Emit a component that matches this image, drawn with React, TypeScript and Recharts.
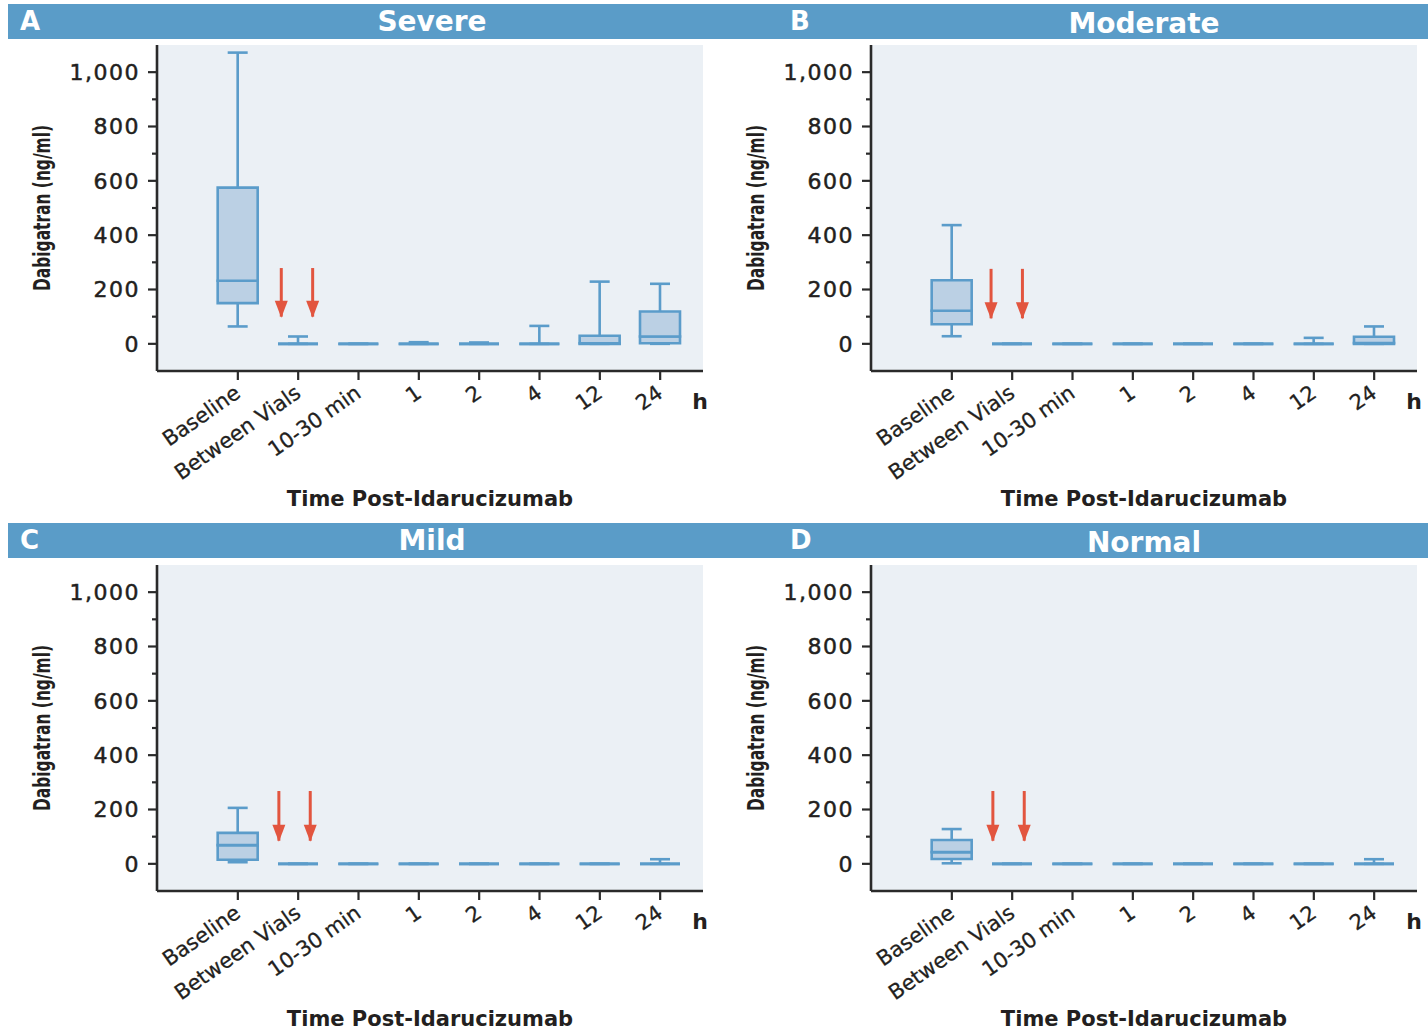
import React from 'react';
import { ComposedChart, Bar, Line, XAxis, YAxis, CartesianGrid } from 'recharts';

const categories = ['Baseline', 'Between Vials', '10-30 min', '1', '2', '4', '12', '24'];
const xTicks = [0, 1, 2, 3, 4, 5, 6, 7];
const yTicks = [0, 100, 200, 300, 400, 500, 600, 700, 800, 900, 1000];

// A - Severe
const severeMin = [64, 0, 0, 0, 0, 0, 0, 0];
const severeQ1 = [150, 0, 0, 0, 0, 0, 0, 2];
const severeMed = [232, 0, 0, 0, 0, 0, 2, 27];
const severeQ3 = [575, 0, 0, 0, 0, 0, 30, 119];
const severeMax = [1072, 27, 0, 6, 5, 66, 229, 221];
const severeArrowX = [0.72, 1.24];
const severeArrowY = [279, 100];

// B - Moderate
const moderateMin = [28, 0, 0, 0, 0, 0, 0, 0];
const moderateQ1 = [72, 0, 0, 0, 0, 0, 0, 0];
const moderateMed = [122, 0, 0, 0, 0, 0, 0, 3];
const moderateQ3 = [234, 0, 0, 0, 0, 0, 0, 26];
const moderateMax = [437, 0, 0, 0, 0, 0, 22, 64];
const moderateArrowX = [0.65, 1.17];
const moderateArrowY = [276, 94];

// C - Mild
const mildMin = [6, 0, 0, 0, 0, 0, 0, 0];
const mildQ1 = [15, 0, 0, 0, 0, 0, 0, 0];
const mildMed = [69, 0, 0, 0, 0, 0, 0, 0];
const mildQ3 = [114, 0, 0, 0, 0, 0, 0, 0];
const mildMax = [206, 0, 0, 0, 0, 0, 0, 17];
const mildArrowX = [0.68, 1.2];
const mildArrowY = [268, 85];

// D - Normal
const normalMin = [2, 0, 0, 0, 0, 0, 0, 0];
const normalQ1 = [18, 0, 0, 0, 0, 0, 0, 0];
const normalMed = [43, 0, 0, 0, 0, 0, 0, 0];
const normalQ3 = [88, 0, 0, 0, 0, 0, 0, 0];
const normalMax = [128, 0, 0, 0, 0, 0, 0, 17];
const normalArrowX = [0.68, 1.2];
const normalArrowY = [268, 85];

const BLUE = '#5b9cca';
const HEADER = '#5a9cc8';
const FILL = '#bbd0e4';
const PLOT_BG = '#ebf0f5';
const AXIS = '#2a2a2a';
const TEXT = '#231f20';
const RED = '#e2553f';
const SW = 2.6;
const FONT = '"DejaVu Sans", sans-serif';
const X_DOMAIN = [-1.34, 7.71];

function toRows(min: number[], q1: number[], med: number[], q3: number[], max: number[]) {
  return xTicks.map((i) => ({
    x: i,
    base: min[i],
    wLo: q1[i] - min[i],
    bLo: med[i] - q1[i],
    bHi: q3[i] - med[i],
    wHi: max[i] - q3[i],
  }));
}

const Empty = () => <g />;

const LowWhisker = (p: any) => {
  const cx = p.x + p.width / 2;
  const yb = p.y + p.height;
  return (
    <g>
      <line x1={cx} x2={cx} y1={p.y} y2={yb} stroke={BLUE} strokeWidth={SW} />
      <line x1={cx - 10} x2={cx + 10} y1={yb} y2={yb} stroke={BLUE} strokeWidth={SW} />
    </g>
  );
};

const HighWhisker = (p: any) => {
  const cx = p.x + p.width / 2;
  return (
    <g>
      <line x1={cx} x2={cx} y1={p.y} y2={p.y + p.height} stroke={BLUE} strokeWidth={SW} />
      <line x1={cx - 10} x2={cx + 10} y1={p.y} y2={p.y} stroke={BLUE} strokeWidth={SW} />
    </g>
  );
};

const BoxPart = (p: any) => (
  <path
    d={`M${p.x},${p.y}H${p.x + p.width}V${p.y + p.height}H${p.x}Z`}
    fill={FILL}
    stroke={BLUE}
    strokeWidth={SW}
  />
);

const ArrowHead = (p: any) => {
  if (p.index !== 1) return <g key={`a${p.index}`} />;
  const { cx, cy } = p;
  return <path key={`a${p.index}`} d={`M${cx - 6.5},${cy - 16}L${cx + 6.5},${cy - 16}L${cx},${cy + 1}Z`} fill={RED} />;
};

const YTick = (p: any) => {
  const v = p.payload.value;
  const major = v % 200 === 0;
  const xr = p.x + 17;
  return (
    <g>
      <line x1={major ? xr - 9 : xr - 5} x2={xr} y1={p.y} y2={p.y} stroke={AXIS} strokeWidth={2.2} />
      {major && (
        <text
          x={p.x}
          y={p.y}
          dy="0.36em"
          textAnchor="end"
          fill={TEXT}
          stroke={TEXT}
          strokeWidth={0.5}
          fontSize={22}
          fontFamily={FONT}
          letterSpacing={1.5}
        >
          {v.toLocaleString('en-US')}
        </text>
      )}
    </g>
  );
};

const XTick = (p: any) => {
  const i = p.payload.value;
  return (
    <g>
      <g transform={`translate(${p.x + 4},${p.y + 14}) rotate(-35)`}>
        <text x={0} y={0} textAnchor="end" fill={TEXT} stroke={TEXT} strokeWidth={0.3} fontSize={21} fontFamily={FONT}>
          {categories[i]}
        </text>
      </g>
      {i === 7 && (
        <text x={p.x + 40} y={p.y + 27} textAnchor="middle" fill={TEXT} fontSize={22} fontWeight="bold" fontFamily={FONT}>
          h
        </text>
      )}
    </g>
  );
};

const YLabel = (props: any) => {
  const vb = props.viewBox;
  const cx = vb.x + 42;
  const cy = vb.y + vb.height / 2;
  return (
    <text
      x={cx}
      y={cy}
      transform={`rotate(-90, ${cx}, ${cy})`}
      textAnchor="middle"
      dominantBaseline="central"
      fill={TEXT}
      fontSize={23}
      fontWeight="bold"
      fontFamily={FONT}
      textLength={166}
      lengthAdjust="spacingAndGlyphs"
    >
      Dabigatran (ng/ml)
    </text>
  );
};

function Panel({ rows, arrowX, arrowY }: { rows: any[]; arrowX: number[]; arrowY: number[] }) {
  return (
    <ComposedChart width={714} height={480} data={rows} margin={{ top: 5, right: 11, bottom: 0, left: 0 }}>
      <CartesianGrid fill={PLOT_BG} horizontal={false} vertical={false} stroke="none" />
      <XAxis
        type="number"
        dataKey="x"
        domain={X_DOMAIN}
        ticks={xTicks}
        allowDataOverflow
        height={149}
        tickSize={9}
        tickMargin={2}
        axisLine={{ stroke: AXIS, strokeWidth: 2.6 }}
        tickLine={{ stroke: AXIS, strokeWidth: 2.2 }}
        tick={<XTick />}
        interval={0}
        label={{
          value: 'Time Post-Idarucizumab',
          position: 'insideBottom',
          offset: 14,
          fill: TEXT,
          fontSize: 21,
          fontWeight: 'bold',
          fontFamily: FONT,
        }}
      />
      <XAxis xAxisId="arrows" type="number" dataKey="x" domain={X_DOMAIN} allowDataOverflow hide />
      <YAxis
        type="number"
        domain={[-100, 1100]}
        ticks={yTicks}
        allowDataOverflow
        width={157}
        tickSize={9}
        tickMargin={8}
        interval={0}
        axisLine={{ stroke: AXIS, strokeWidth: 2.6 }}
        tickLine={false}
        tick={<YTick />}
        label={{ content: <YLabel /> }}
      />
      <Bar dataKey="base" stackId="s" barSize={40} shape={<Empty />} isAnimationActive={false} />
      <Bar dataKey="wLo" stackId="s" barSize={40} shape={<LowWhisker />} isAnimationActive={false} />
      <Bar dataKey="bLo" stackId="s" barSize={40} shape={<BoxPart />} isAnimationActive={false} />
      <Bar dataKey="bHi" stackId="s" barSize={40} shape={<BoxPart />} isAnimationActive={false} />
      <Bar dataKey="wHi" stackId="s" barSize={40} shape={<HighWhisker />} isAnimationActive={false} />
      {arrowX.map((ax, k) => (
        <Line
          key={`arrow${k}`}
          xAxisId="arrows"
          data={[
            { x: ax, y: arrowY[0] },
            { x: ax, y: arrowY[1] },
          ]}
          dataKey="y"
          stroke={RED}
          strokeWidth={3}
          dot={ArrowHead}
          activeDot={false}
          legendType="none"
          isAnimationActive={false}
        />
      ))}
    </ComposedChart>
  );
}

function Header({ top, letters, titles }: { top: number; letters: string[]; titles: string[] }) {
  const txt: React.CSSProperties = {
    position: 'absolute',
    color: '#fff',
    fontFamily: FONT,
    fontWeight: 'bold',
    fontSize: 28,
    lineHeight: '35px',
    top: 0,
  };
  return (
    <div style={{ position: 'absolute', left: 8, top, width: 1420, height: 35, background: HEADER }}>
      <div style={{ ...txt, left: 12, fontSize: 26 }}>{letters[0]}</div>
      <div style={{ ...txt, left: 324, width: 200, textAlign: 'center' }}>{titles[0]}</div>
      <div style={{ ...txt, left: 782, fontSize: 26 }}>{letters[1]}</div>
      <div style={{ ...txt, left: 1036, width: 200, textAlign: 'center', top: 2 }}>{titles[1]}</div>
    </div>
  );
}

export default function App() {
  return (
    <div style={{ position: 'absolute', left: 0, top: 0, width: 1428, height: 1031, overflow: 'hidden', background: '#fff' }}>
      <Header top={4} letters={['A', 'B']} titles={['Severe', 'Moderate']} />
      <Header top={523} letters={['C', 'D']} titles={['Mild', 'Normal']} />
      <div style={{ position: 'absolute', left: 0, top: 40 }}>
        <Panel rows={toRows(severeMin, severeQ1, severeMed, severeQ3, severeMax)} arrowX={severeArrowX} arrowY={severeArrowY} />
      </div>
      <div style={{ position: 'absolute', left: 714, top: 40 }}>
        <Panel rows={toRows(moderateMin, moderateQ1, moderateMed, moderateQ3, moderateMax)} arrowX={moderateArrowX} arrowY={moderateArrowY} />
      </div>
      <div style={{ position: 'absolute', left: 0, top: 560 }}>
        <Panel rows={toRows(mildMin, mildQ1, mildMed, mildQ3, mildMax)} arrowX={mildArrowX} arrowY={mildArrowY} />
      </div>
      <div style={{ position: 'absolute', left: 714, top: 560 }}>
        <Panel rows={toRows(normalMin, normalQ1, normalMed, normalQ3, normalMax)} arrowX={normalArrowX} arrowY={normalArrowY} />
      </div>
    </div>
  );
}
